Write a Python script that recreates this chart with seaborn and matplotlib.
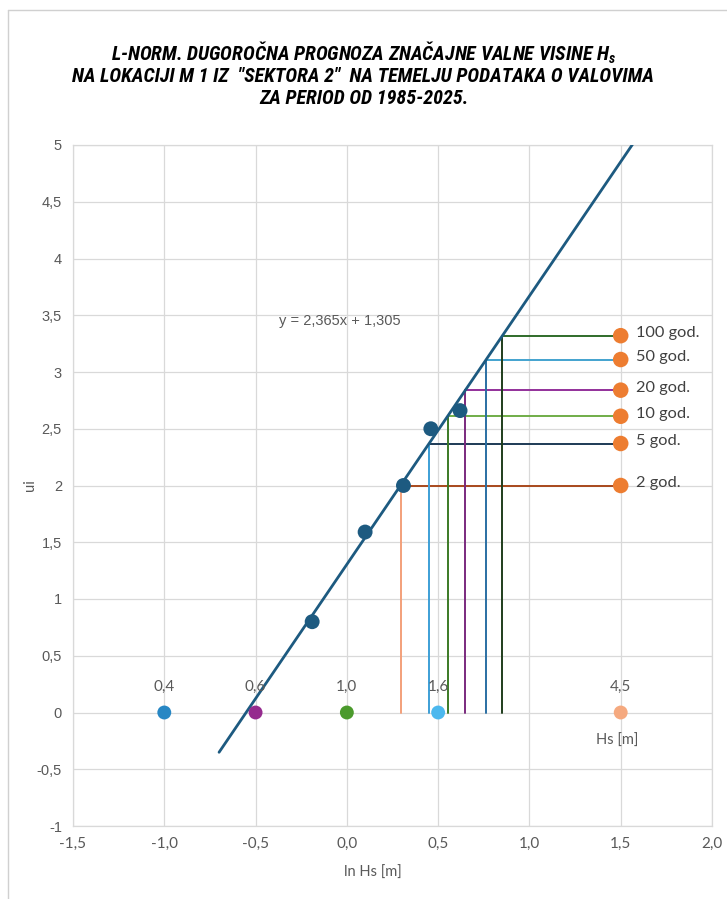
import matplotlib
matplotlib.use("Agg")
import matplotlib.pyplot as plt
from matplotlib import font_manager
from matplotlib.lines import Line2D
from matplotlib.ticker import FuncFormatter, MultipleLocator
import numpy as np
import pandas as pd
import seaborn as sns

# --- data -------------------------------------------------------------
ln_hs_obs = [-0.19, 0.10, 0.31, 0.46, 0.62]       # ln Hs of observed extremes
ui_obs = [0.80, 1.59, 2.00, 2.50, 2.66]           # reduced variate ui

slope, intercept = 2.365, 1.305                   # fitted trend line
line_x = [-0.70, 1.60]

return_labels = ["2 god.", "5 god.", "10 god.", "20 god.", "50 god.", "100 god."]
ui_return = [2.00, 2.37, 2.61, 2.84, 3.11, 3.32]
horiz_colors = ["#a8491c", "#1d3a55", "#70ad47", "#93309a", "#43a3cf", "#2f6b2a"]
vert_colors = ["#f3a07a", "#3d9fd6", "#3b7a26", "#7a2a7e", "#2a6fa3", "#1f3d1c"]

ref_labels = ["0,4", "0,6", "1,0", "1,6", "4,5"]    # Hs reference marks [m]
ref_x = [-1.0, -0.5, 0.0, 0.5, 1.5]
ref_colors = ["#2787c4", "#952a8e", "#4b9a2c", "#4cb8ee", "#f5a97f"]

rp_x = 1.5

# --- fonts ------------------------------------------------------------
sns.set_theme(style="white")
names = {f.name for f in font_manager.fontManager.ttflist}
title_font = next((n for n in ["Liberation Sans Narrow", "Arial Narrow", "Roboto Condensed",
                               "Barlow Semi Condensed", "Asap Condensed"] if n in names),
                  "Liberation Sans")
plt.rcParams["font.family"] = ["Lato", "DejaVu Sans"]
plt.rcParams["mathtext.fontset"] = "custom"
plt.rcParams["mathtext.it"] = f"{title_font}:italic:bold"
plt.rcParams["mathtext.rm"] = f"{title_font}:bold"

fig = plt.figure(figsize=(7.27, 8.99), dpi=100)
ax = fig.add_axes([73 / 727, 73 / 899, 639 / 727, 681 / 899])

grid_c = "#d9d9d9"
ax.set_xlim(-1.5, 2.0)
ax.set_ylim(-1, 5)
ax.xaxis.set_major_locator(MultipleLocator(0.5))
ax.yaxis.set_major_locator(MultipleLocator(0.5))
ax.grid(True, color=grid_c, lw=0.9, zorder=0)
ax.set_axisbelow(True)
for s in ax.spines.values():
    s.set_color(grid_c)
    s.set_linewidth(0.9)

# return-period guide lines
for ui, hc, vc in zip(ui_return, horiz_colors, vert_colors):
    xi = (ui - intercept) / slope
    ax.plot([xi, rp_x], [ui, ui], color=hc, lw=1.4, zorder=2)
    ax.plot([xi, xi], [0, ui], color=vc, lw=1.4, zorder=2)

# fitted line
lx = np.array(line_x)
ax.plot(lx, slope * lx + intercept, color="#1d5a80", lw=2.0, zorder=3)

# observed points
obs = pd.DataFrame({"lnHs": ln_hs_obs, "ui": ui_obs})
sns.scatterplot(data=obs, x="lnHs", y="ui", ax=ax, s=115, color="#1d5a80",
                edgecolor="none", zorder=4, legend=False)

# return-period markers
rp = pd.DataFrame({"x": [rp_x] * len(ui_return), "ui": ui_return, "lab": return_labels})
sns.scatterplot(data=rp, x="x", y="ui", ax=ax, s=125, color="#ed7d31",
                edgecolor="none", zorder=4, legend=False)
for ui, lab in zip(ui_return, return_labels):
    ax.text(rp_x + 0.085, ui + 0.02, lab, fontsize=11.8, color="#404040", va="center", ha="left",
            zorder=5)

# Hs reference marks on the ui = 0 line
ref = pd.DataFrame({"x": ref_x, "y": [0] * len(ref_x), "c": ref_labels})
sns.scatterplot(data=ref, x="x", y="y", hue="c", palette=ref_colors, ax=ax, s=100,
                edgecolor="none", zorder=4, legend=False)
for x, lab in zip(ref_x, ref_labels):
    ax.text(x, 0.23, lab, fontsize=11, color="#595959", ha="center", va="center", zorder=5)
ax.text(1.48, -0.25, "Hs [m]", fontsize=10.5, color="#595959", ha="center", va="center")

# equation of the trend line
ax.text(-0.04, 3.45, "y = 2,365x + 1,305", fontsize=10.5, color="#595959",
        ha="center", va="center", family=["Liberation Sans", "DejaVu Sans"])

# tick labels with comma decimal separator
ax.xaxis.set_major_formatter(FuncFormatter(lambda v, p: f"{v:.1f}".replace(".", ",")))
ax.yaxis.set_major_formatter(FuncFormatter(
    lambda v, p: (f"{v:.1f}".rstrip("0").rstrip(".") if v != int(v) else f"{int(v)}").replace(".", ",")))
ax.tick_params(axis="x", labelsize=11, labelcolor="#595959", length=0, pad=8)
ax.tick_params(axis="y", labelsize=10.5, labelcolor="#595959", length=0, pad=8)
for t in ax.get_yticklabels():
    t.set_family(["Liberation Sans", "DejaVu Sans"])

ax.set_xlabel("ln Hs [m]", fontsize=10.5, color="#595959")
ax.xaxis.set_label_coords((373 - 73) / 639, -0.058)
ax.set_ylabel("ui", fontsize=10.5, color="#595959")
ax.yaxis.set_label_coords(-(73 - 37) / 639, 0.5)

# title
title_kw = dict(ha="center", va="center", fontsize=14.4, family=title_font,
                weight="bold", style="italic", color="#000000")
fig.text(0.5, 1 - 53 / 899, "L-NORM. DUGOROČNA PROGNOZA ZNAČAJNE VALNE VISINE $H_s$", **title_kw)
fig.text(0.5, 1 - 76 / 899, "NA LOKACIJI M 1 IZ  \"SEKTORA 2\"  NA TEMELJU PODATAKA O VALOVIMA", **title_kw)
fig.text(0.5, 1 - 99 / 899, "ZA PERIOD OD 1985-2025.", **title_kw)

# chart frame
fig.add_artist(Line2D([8 / 727, 8 / 727], [0, 1 - 10 / 899], transform=fig.transFigure,
                      color="#d0d0d0", lw=1))
fig.add_artist(Line2D([8 / 727, 1], [1 - 10 / 899, 1 - 10 / 899], transform=fig.transFigure,
                      color="#d0d0d0", lw=1))

fig.savefig("out.png", dpi=100, facecolor="white")
